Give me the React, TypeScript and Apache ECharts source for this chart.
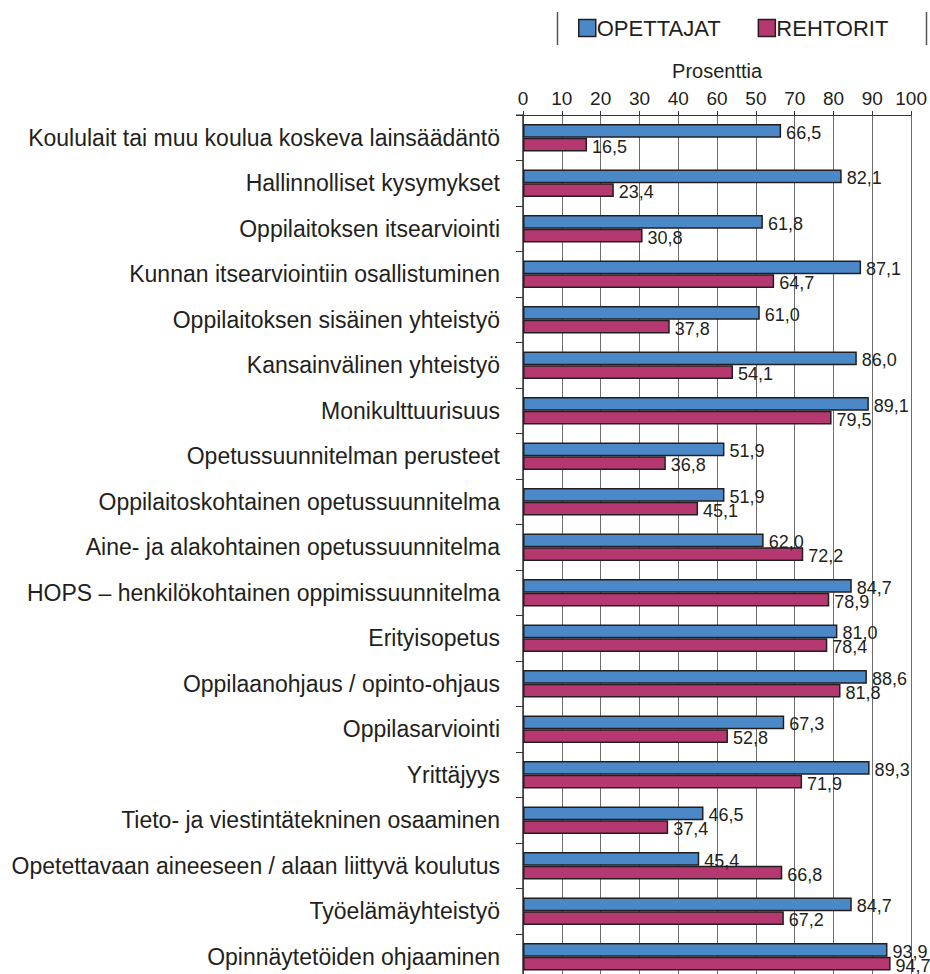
import React, { useEffect, useRef } from "react";
import * as echarts from "echarts";

const categories: string[] = [
  "Koululait tai muu koulua koskeva lainsäädäntö",
  "Hallinnolliset kysymykset",
  "Oppilaitoksen itsearviointi",
  "Kunnan itsearviointiin osallistuminen",
  "Oppilaitoksen sisäinen yhteistyö",
  "Kansainvälinen yhteistyö",
  "Monikulttuurisuus",
  "Opetussuunnitelman perusteet",
  "Oppilaitoskohtainen opetussuunnitelma",
  "Aine- ja alakohtainen opetussuunnitelma",
  "HOPS – henkilökohtainen oppimissuunnitelma",
  "Erityisopetus",
  "Oppilaanohjaus / opinto-ohjaus",
  "Oppilasarviointi",
  "Yrittäjyys",
  "Tieto- ja viestintätekninen osaaminen",
  "Opetettavaan aineeseen / alaan liittyvä koulutus",
  "Työelämäyhteistyö",
  "Opinnäytetöiden ohjaaminen",
];

const opettajat: number[] = [
  66.5, 82.1, 61.8, 87.1, 61.0, 86.0, 89.1, 51.9, 51.9, 62.0, 84.7, 81.0, 88.6,
  67.3, 89.3, 46.5, 45.4, 84.7, 93.9,
];

const rehtorit: number[] = [
  16.5, 23.4, 30.8, 64.7, 37.8, 54.1, 79.5, 36.8, 45.1, 72.2, 78.9, 78.4, 81.8,
  52.8, 71.9, 37.4, 66.8, 67.2, 94.7,
];

// Tick labels along the percentage axis, one per 10 %.
const tickLabels: string[] = ["0", "10", "20", "30", "40", "60", "50", "70", "80", "90", "100"];

const seriesNames = ["OPETTAJAT", "REHTORIT"];

const BLUE = "#4a88c8";
const PINK = "#b63870";
const EDGE = "#231f20";
const SANS = '"Liberation Sans", Arial, Helvetica, sans-serif';

const fmt = (v: number) => v.toFixed(1).replace(".", ",");

export default function App() {
  const ref = useRef<HTMLDivElement>(null);

  useEffect(() => {
    if (!ref.current) return;
    const chart = echarts.init(ref.current, undefined, { renderer: "svg" });

    const barLabel = {
      show: true,
      position: "right" as const,
      distance: 5,
      offset: [0, 2],
      color: "#231f20",
      fontFamily: SANS,
      fontSize: 18,
      formatter: (p: any) => fmt(p.value),
    };

    chart.setOption({
      animation: false,
      backgroundColor: "#ffffff",
      legend: {
        left: 578,
        top: 17,
        padding: 0,
        itemWidth: 17,
        itemHeight: 17,
        itemGap: 37,
        icon: "rect",
        data: seriesNames,
        textStyle: {
          fontFamily: SANS,
          fontSize: 22,
          color: "#231f20",
          lineHeight: 17,
          padding: [0, 0, 0, -4],
        },
        itemStyle: { borderColor: EDGE, borderWidth: 1.5 },
      },
      graphic: [
        {
          type: "line",
          shape: { x1: 557.5, y1: 12, x2: 557.5, y2: 45 },
          style: { stroke: "#555", lineWidth: 1.5 },
        },
        {
          type: "line",
          shape: { x1: 926.5, y1: 12, x2: 926.5, y2: 45 },
          style: { stroke: "#555", lineWidth: 1.5 },
        },
        {
          type: "line",
          shape: { x1: 516, y1: 115, x2: 523, y2: 115 },
          style: { stroke: "#333", lineWidth: 1 },
        },
      ],
      grid: { left: 523, right: 17, top: 115, height: 864.5 },
      xAxis: {
        type: "value",
        position: "top",
        min: 0,
        max: 100,
        interval: 10,
        name: "Prosenttia",
        nameLocation: "middle",
        nameGap: 34,
        nameTextStyle: { fontFamily: SANS, fontSize: 20, color: "#231f20" },
        axisLine: { show: true, lineStyle: { color: "#333", width: 1 } },
        axisTick: { show: true, length: 4, lineStyle: { color: "#333" } },
        axisLabel: {
          fontFamily: SANS,
          fontSize: 19,
          color: "#231f20",
          margin: 7,
          formatter: (v: number) => tickLabels[Math.round(v / 10)] ?? String(v),
        },
        splitLine: { show: true, lineStyle: { color: "#6d6d6d", width: 1 } },
      },
      yAxis: {
        type: "category",
        inverse: true,
        data: categories,
        axisLine: { show: true, lineStyle: { color: "#333", width: 1.5 } },
        axisTick: { show: true, length: 7, lineStyle: { color: "#333" } },
        axisLabel: {
          fontFamily: SANS,
          fontSize: 23,
          color: "#231f20",
          margin: 23,
        },
        splitLine: { show: false },
      },
      series: [
        {
          name: seriesNames[0],
          type: "bar",
          data: opettajat,
          barGap: "0%",
          barCategoryGap: "40%",
          itemStyle: { color: BLUE, borderColor: EDGE, borderWidth: 1.5 },
          label: barLabel,
        },
        {
          name: seriesNames[1],
          type: "bar",
          data: rehtorit,
          barGap: "0%",
          barCategoryGap: "40%",
          itemStyle: { color: PINK, borderColor: EDGE, borderWidth: 1.5 },
          label: barLabel,
        },
      ],
    });

    return () => chart.dispose();
  }, []);

  return (
    <div
      style={{
        position: "absolute",
        top: 0,
        left: 0,
        width: 930,
        height: 974,
        overflow: "hidden",
        background: "#fff",
      }}
    >
      <div ref={ref} style={{ width: 930, height: 990 }} />
    </div>
  );
}
